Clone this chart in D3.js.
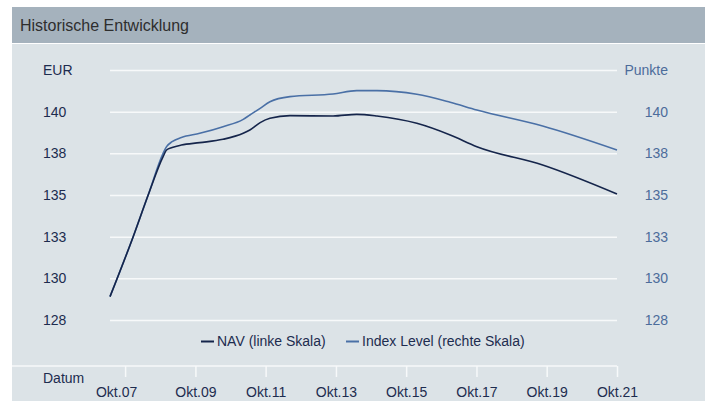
<!DOCTYPE html>
<html>
<head>
<meta charset="utf-8">
<script src="https://cdn.jsdelivr.net/npm/d3@7"></script>
<style>
  html, body { margin: 0; padding: 0; background: #fff; }
  svg { display: block; font-family: "Liberation Sans", Arial, sans-serif; }
  .grid .domain { display: none; }
  .grid line { stroke: #f7f9fa; stroke-width: 1.5; }
  .x-axis .domain { display: none; }
  .x-axis line { stroke: #f7f9fa; stroke-width: 1.5; }
</style>
</head>
<body>
<div id="chart"></div>
<script>
var title = 'Historische Entwicklung';

var dates = [
  '2007-04-27', '2007-12-24', '2008-05-28', '2008-10-30', '2008-12-05',
  '2009-02-01', '2009-05-08', '2009-11-15', '2010-07-15', '2011-02-10',
  '2011-04-20', '2011-08-05', '2011-11-15', '2012-06-10', '2013-09-01',
  '2014-05-05', '2014-12-01', '2016-01-20', '2017-01-01', '2017-10-05',
  '2019-08-20', '2021-10-01'
];
var navValues = [
  128.9, 132.5, 135.0, 137.3, 137.7,
  137.85, 138.0, 138.14, 138.34, 138.7,
  138.9, 139.34, 139.6, 139.76, 139.74,
  139.84, 139.74, 139.3, 138.6, 137.9,
  136.8, 135.06
];
var indexValues = [
  128.9, 132.5, 135.0, 137.5, 137.9,
  138.2, 138.45, 138.7, 139.1, 139.54,
  139.8, 140.2, 140.6, 140.9, 141.06,
  141.26, 141.26, 141.04, 140.56, 140.1,
  139.14, 137.7
];

var yTicks = [127.5, 130, 132.5, 135, 137.5, 140, 142.5];
var leftTickLabels = ['128', '130', '133', '135', '138', '140', 'EUR'];
var rightTickLabels = ['128', '130', '133', '135', '138', '140', 'Punkte'];

var xTickDates = [
  '2007-10-01', '2009-10-01', '2011-10-01', '2013-10-01',
  '2015-10-01', '2017-10-01', '2019-10-01', '2021-10-01'
];
var xTickLabels = ['Okt.07', 'Okt.09', 'Okt.11', 'Okt.13', 'Okt.15', 'Okt.17', 'Okt.19', 'Okt.21'];

var legendLabels = ['NAV (linke Skala)', 'Index Level (rechte Skala)'];

var colors = {
  nav: '#15254b',
  index: '#4a70a6',
  leftText: '#1d2c4f',
  rightText: '#4c6c9b',
  header: '#a5b2bd',
  panel: '#dce3e7'
};

var width = 705, height = 401;
var plot = { left: 110, right: 617, top: 70, bottom: 320 };
var parse = d3.timeParse('%Y-%m-%d');

var svg = d3.select('#chart').append('svg')
  .attr('width', width)
  .attr('height', height);

// header bar and panel
svg.append('rect')
  .attr('x', 12).attr('y', 7)
  .attr('width', width - 12).attr('height', 36)
  .attr('fill', colors.header);
svg.append('rect')
  .attr('x', 12).attr('y', 44)
  .attr('width', width - 12).attr('height', height - 44)
  .attr('fill', colors.panel);
svg.append('text')
  .attr('x', 20).attr('y', 31)
  .attr('font-size', 16)
  .attr('fill', '#2e2e2e')
  .text(title);

var x = d3.scaleTime()
  .domain([parse(dates[0]), parse(dates[dates.length - 1])])
  .range([plot.left, plot.right]);
var yLeft = d3.scaleLinear()
  .domain([yTicks[0], yTicks[yTicks.length - 1]])
  .range([plot.bottom, plot.top]);
var yRight = d3.scaleLinear()
  .domain([yTicks[0], yTicks[yTicks.length - 1]])
  .range([plot.bottom, plot.top]);

// gridlines + left labels
var gLeft = svg.append('g')
  .attr('class', 'grid')
  .attr('transform', 'translate(' + plot.left + ',0)')
  .call(d3.axisLeft(yLeft)
    .tickValues(yTicks)
    .tickSize(-(plot.right - plot.left))
    .tickFormat(function (d, i) { return leftTickLabels[i]; }));
gLeft.selectAll('text')
  .attr('x', 43 - plot.left)
  .attr('text-anchor', 'start')
  .attr('font-size', 14)
  .attr('font-family', null)
  .attr('fill', colors.leftText);

// right labels
var gRight = svg.append('g')
  .attr('class', 'grid')
  .attr('transform', 'translate(' + plot.right + ',0)')
  .call(d3.axisRight(yRight)
    .tickValues(yTicks)
    .tickSize(0)
    .tickFormat(function (d, i) { return rightTickLabels[i]; }));
gRight.selectAll('text')
  .attr('x', 668 - plot.right)
  .attr('text-anchor', 'end')
  .attr('font-size', 14)
  .attr('font-family', null)
  .attr('fill', colors.rightText);

// x axis
var axisY = 366;
svg.append('line')
  .attr('x1', 12).attr('x2', plot.right)
  .attr('y1', axisY).attr('y2', axisY)
  .attr('stroke', '#f7f9fa')
  .attr('stroke-width', 1.5);
var gX = svg.append('g')
  .attr('class', 'x-axis')
  .attr('transform', 'translate(0,' + axisY + ')')
  .call(d3.axisBottom(x)
    .tickValues(xTickDates.map(parse))
    .tickSize(11)
    .tickFormat(function (d, i) { return xTickLabels[i]; }));
gX.selectAll('text')
  .attr('y', 21)
  .attr('font-size', 14)
  .attr('font-family', null)
  .attr('fill', colors.leftText)
  .attr('dx', function (d, i) { return i === 0 ? -9 : 0; });
svg.append('text')
  .attr('x', 43).attr('y', 383)
  .attr('font-size', 14)
  .attr('fill', colors.leftText)
  .text('Datum');

// lines
var rows = dates.map(function (d, i) {
  return { date: parse(d), nav: navValues[i], index: indexValues[i] };
});
var navLine = d3.line()
  .curve(d3.curveMonotoneX)
  .x(function (d) { return x(d.date); })
  .y(function (d) { return yLeft(d.nav); });
var indexLine = d3.line()
  .curve(d3.curveMonotoneX)
  .x(function (d) { return x(d.date); })
  .y(function (d) { return yRight(d.index); });

svg.append('path')
  .datum(rows)
  .attr('d', indexLine)
  .attr('fill', 'none')
  .attr('stroke', colors.index)
  .attr('stroke-width', 1.6);
svg.append('path')
  .datum(rows)
  .attr('d', navLine)
  .attr('fill', 'none')
  .attr('stroke', colors.nav)
  .attr('stroke-width', 1.6);

// legend
var legendItems = [
  { label: legendLabels[0], color: colors.nav, x: 201 },
  { label: legendLabels[1], color: colors.index, x: 346 }
];
var legend = svg.append('g').attr('class', 'legend');
legendItems.forEach(function (item) {
  legend.append('line')
    .attr('x1', item.x).attr('x2', item.x + 13)
    .attr('y1', 341.5).attr('y2', 341.5)
    .attr('stroke', item.color)
    .attr('stroke-width', 2);
  legend.append('text')
    .attr('x', item.x + 16).attr('y', 346)
    .attr('font-size', 14)
    .attr('fill', colors.leftText)
    .text(item.label);
});
</script>
</body>
</html>
